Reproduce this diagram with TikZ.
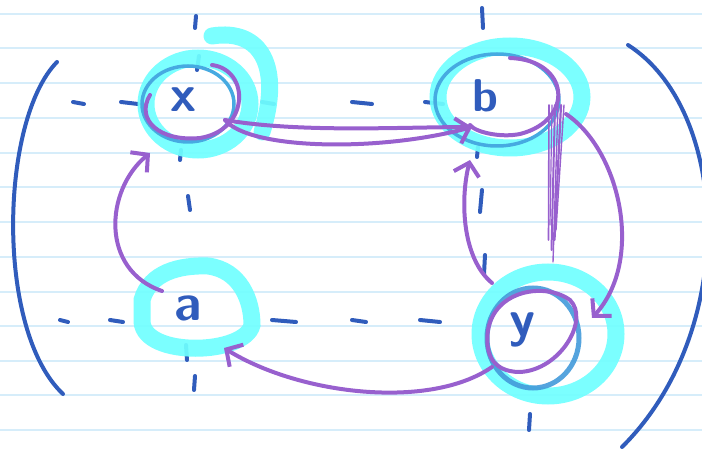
\documentclass[tikz,border=0pt]{standalone}
\usetikzlibrary{arrows.meta}
\definecolor{ink}{RGB}{48,92,188}
\definecolor{pen}{RGB}{152,96,206}
\definecolor{hl}{RGB}{112,255,255}
\definecolor{rule}{RGB}{214,237,250}
\definecolor{mix}{RGB}{70,170,225}
\tikzset{
  inkline/.style={draw=ink,line width=4pt,line cap=round},
  penline/.style={draw=pen,line width=4pt,line cap=round},
  hlline/.style={draw=hl,line width=17pt,line cap=round,opacity=0.92},
  arr/.style={penline,-{Straight Barb[length=12pt,width=26pt,line width=4pt]}},
  letter/.style={text=ink,font=\fontsize{52}{52}\selectfont\sffamily\bfseries,inner sep=0pt}
}
\begin{document}
\begin{tikzpicture}[x=1pt,y=-1pt]
\useasboundingbox (0,0) rectangle (702,449);
% ruled paper
\foreach \yy in {14,48,83,118,153,187,222,257,292,326,361,395,430}
  \draw[rule,line width=1.2pt] (0,\yy) -- (702,\yy);
% brackets
\draw[inkline] (57,62) .. controls (0,120) and (-5,330) .. (63,394);
\draw[inkline] (628,45) .. controls (730,110) and (740,330) .. (622,447);
% dashed guides
\foreach \a/\b in {73/84,121/138,262/274,352/372,425/443}
  \draw[inkline] (\a,102) -- (\b,104);
\foreach \a/\b in {60/68,110/123,272/296,352/366,420/440}
  \draw[inkline] (\a,320) -- (\b,322);
\foreach \a/\b/\c/\d in {196/16/195/28, 199/56/197/70, 181/150/180/160, 188/196/190/210, 186/345/187/360, 195/376/194/390}
  \draw[inkline] (\a,\b) -- (\c,\d);
\foreach \a/\b/\c/\d in {482/8/483/28, 478/147/477/157, 482/190/480/212, 485/255/484/274, 530/414/529/430}
  \draw[inkline] (\a,\b) -- (\c,\d);
% highlights
\draw[hlline] (198,104) ellipse [x radius=52,y radius=46];
\draw[hlline] (212,36) .. controls (262,28) and (282,68) .. (262,132);
\draw[hlline] (510,97) ellipse [x radius=72,y radius=51];
\draw[hlline] (142,300) .. controls (150,272) and (180,265) .. (208,266) .. controls (240,270) and (252,300) .. (252,325) .. controls (245,355) and (145,358) .. (142,322) -- cycle;
\draw[hlline] (548,334) ellipse [x radius=68,y radius=62];
% ink outlines inside highlights
\draw[draw=mix,line width=3.5pt] (497,100) ellipse [x radius=62,y radius=46];
\draw[draw=mix,line width=3.5pt] (188,104) ellipse [x radius=46,y radius=38];
\draw[draw=mix!80!ink,line width=5pt,opacity=0.9] (533,338) ellipse [x radius=46,y radius=50];
% node outlines (pen)
\draw[penline] (212,65) .. controls (250,70) and (250,130) .. (200,138) .. controls (160,142) and (135,120) .. (150,95);
\draw[penline] (510,58) .. controls (570,60) and (575,120) .. (520,134) .. controls (500,138) and (475,132) .. (470,125);
\draw[penline] (488,330) .. controls (495,290) and (545,282) .. (570,300) .. controls (590,320) and (560,370) .. (520,372) .. controls (490,372) and (485,350) .. (488,330);
% letters
\node[letter] (x) at (183,100) {x};
\node[letter,font=\fontsize{46}{46}\selectfont\sffamily\bfseries] (b) at (485,96) {b};
\node[letter] (a) at (188,308) {a};
\node[letter] (y) at (522,330) {y};
% connector anchors
\coordinate (xo) at (225,120);
\coordinate (bi) at (472,127);
\coordinate (ao) at (162,291);
\coordinate (xi) at (150,153);
\coordinate (yo) at (492,283);
\coordinate (bi2) at (470,160);
\coordinate (bo) at (566,114);
\coordinate (yi) at (592,318);
\coordinate (yo2) at (492,367);
\coordinate (ai) at (224,348);
% connectors
\draw[arr] (xo) .. controls (250,150) and (380,152) .. (bi);
\draw[penline] (xo) .. controls (300,133) and (400,127) .. (bi);
\draw[arr] (ao) .. controls (100,270) and (105,190) .. (xi);
\draw[arr] (yo) .. controls (462,258) and (460,200) .. (bi2);
\draw[arr] (bo) .. controls (620,150) and (645,260) .. (yi);
\draw[arr] (yo2) .. controls (430,410) and (300,395) .. (ai);
% scribbles b -> y
\foreach \s/\e/\w in {-9/240/1.6,-6/225/1.2,-3/250/2,0/262/1.4,3/240/2.2,6/230/1.4}
  \draw[draw=pen,line width=\w pt,line cap=round] (558+\s,105) -- (553+\s*0.5,\e);
\end{tikzpicture}
\end{document}
